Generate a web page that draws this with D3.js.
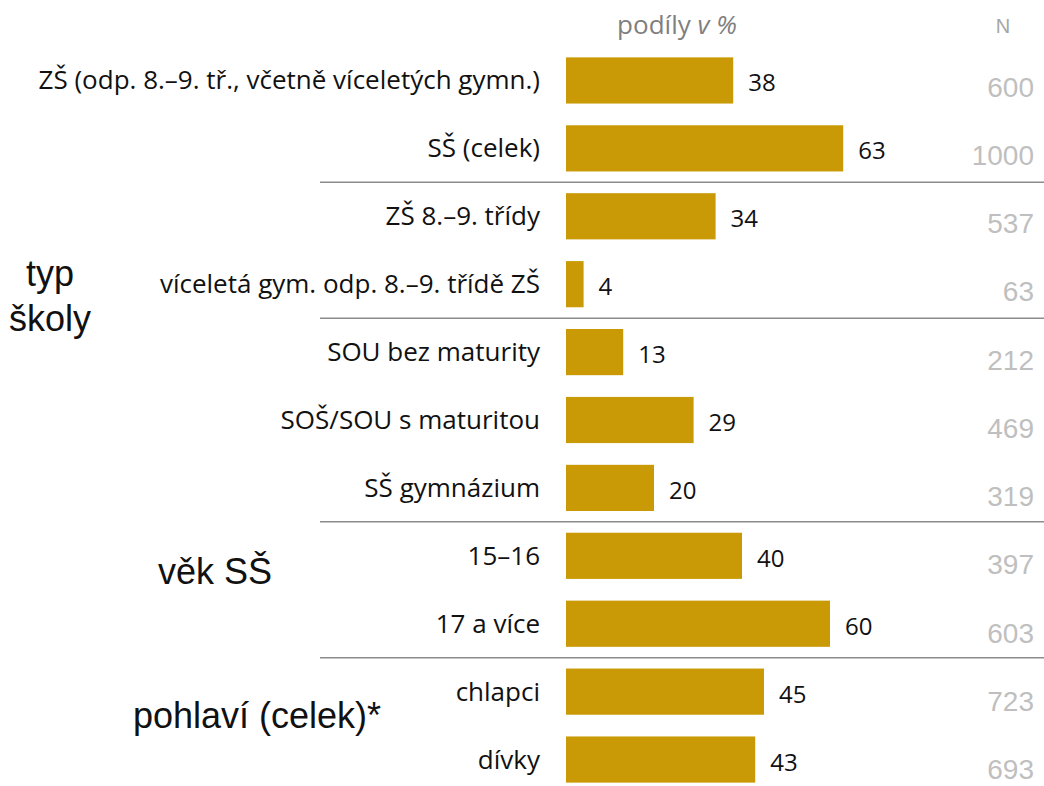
<!DOCTYPE html>
<html>
<head>
<meta charset="utf-8">
<script src="https://cdn.jsdelivr.net/npm/d3@7"></script>
<style>
    body { margin: 0; background: #fff; }
    .cat-label { font-family: "Open Sans", Lato, sans-serif; font-size: 26px; fill: #111; }
    .value-label { font-family: "Open Sans", Lato, sans-serif; font-size: 24px; fill: #111; }
    .n-label { font-family: "Liberation Sans", Arial, sans-serif; font-size: 28px; fill: #bfbfbf; }
    .group-label { font-family: "Liberation Sans", Arial, sans-serif; font-size: 36px; fill: #111; }
    .header { font-family: "Open Sans", Lato, sans-serif; font-size: 26px; fill: #7f7f7f; }
    .n-header { font-family: "Liberation Sans", Arial, sans-serif; font-size: 20px; fill: #a6a6a6; }
    .sep { stroke: #8c8c8c; stroke-width: 1.5; }
</style>
</head>
<body>
<div id="chart"></div>
<script>
const categories = [
    "ZŠ (odp. 8.–9. tř., včetně víceletých gymn.)",
    "SŠ (celek)",
    "ZŠ 8.–9. třídy",
    "víceletá gym. odp. 8.–9. třídě ZŠ",
    "SOU bez maturity",
    "SOŠ/SOU s maturitou",
    "SŠ gymnázium",
    "15–16",
    "17 a více",
    "chlapci",
    "dívky"
];

const values = [38, 63, 34, 4, 13, 29, 20, 40, 60, 45, 43];

const counts = [600, 1000, 537, 63, 212, 469, 319, 397, 603, 723, 693];

// separator line drawn below these rows
const separatorsAfter = [1, 3, 6, 8];

const groupLabels = [
    { lines: ["typ", "školy"], row: 3 },
    { lines: ["věk SŠ"], row: 7 },
    { lines: ["pohlaví (celek)*"], row: 9 }
];

const width = 1044;
const height = 786;
const barLeft = 566;
const labelRight = 540;
const lineLeft = 320;
const nRight = 1034;

const svg = d3.select("#chart")
    .append("svg")
    .attr("width", width)
    .attr("height", height);

const x = d3.scaleLinear()
    .domain([0, 100])
    .range([barLeft, barLeft + 440]);

const y = d3.scaleBand()
    .domain(categories)
    .range([46.5, 793.5])
    .paddingInner(0.32)
    .paddingOuter(0.16);

// N column drifts slightly lower than the bars
const yN = d3.scalePoint()
    .domain(categories)
    .range([86.5, 769]);

const mid = c => y(c) + y.bandwidth() / 2;

svg.append("g")
    .selectAll("rect")
    .data(categories)
    .join("rect")
    .attr("x", x(0))
    .attr("y", d => y(d))
    .attr("width", (d, i) => x(values[i]) - x(0))
    .attr("height", y.bandwidth())
    .attr("fill", "#c99a06");

svg.append("g")
    .selectAll("text")
    .data(categories)
    .join("text")
    .attr("class", "value-label")
    .attr("x", (d, i) => x(values[i]) + 15)
    .attr("y", d => mid(d) + 11)
    .text((d, i) => values[i]);

svg.append("g")
    .selectAll("text")
    .data(categories)
    .join("text")
    .attr("class", "cat-label")
    .attr("x", labelRight)
    .attr("y", d => mid(d) + 9)
    .attr("text-anchor", "end")
    .text(d => d);

svg.append("g")
    .selectAll("text")
    .data(categories)
    .join("text")
    .attr("class", "n-label")
    .attr("x", nRight)
    .attr("y", d => yN(d) + 10)
    .attr("text-anchor", "end")
    .text((d, i) => counts[i]);

svg.append("g")
    .selectAll("line")
    .data(separatorsAfter)
    .join("line")
    .attr("class", "sep")
    .attr("x1", lineLeft)
    .attr("x2", width)
    .attr("y1", i => (y(categories[i]) + y.bandwidth() + y(categories[i + 1])) / 2)
    .attr("y2", i => (y(categories[i]) + y.bandwidth() + y(categories[i + 1])) / 2);

const groupX = [50, 215, 257];
const groupDy = [2, 28, 36];
groupLabels.forEach((g, gi) => {
    const t = svg.append("text")
        .attr("class", "group-label")
        .attr("text-anchor", "middle")
        .attr("x", groupX[gi])
        .attr("y", mid(categories[g.row]) + groupDy[gi]);
    g.lines.forEach((line, li) => {
        t.append("tspan")
            .attr("x", groupX[gi])
            .attr("dy", li === 0 ? 0 : 45)
            .text(line);
    });
});

const header = svg.append("text")
    .attr("class", "header")
    .attr("x", 677)
    .attr("y", 34)
    .attr("text-anchor", "middle");
header.append("tspan").text("podíly ");
header.append("tspan").attr("font-style", "italic").text("v %");

svg.append("text")
    .attr("class", "n-header")
    .attr("x", 1003)
    .attr("y", 33)
    .attr("text-anchor", "middle")
    .text("N");
</script>
</body>
</html>
